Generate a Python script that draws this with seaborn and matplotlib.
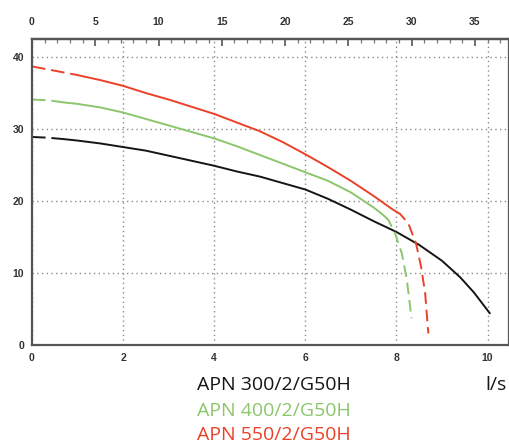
import numpy as np
import matplotlib
matplotlib.use("Agg")
import matplotlib.pyplot as plt
from matplotlib.ticker import MultipleLocator
import seaborn as sns

# ── data (flow l/s -> head m) ────────────────────────────────────────────
labels = ["APN 300/2/G50H", "APN 400/2/G50H", "APN 550/2/G50H"]
colors = ["#151515", "#8cc66c", "#ea4128"]

# APN 300
p300_start_x = [0.0, 0.35, 0.7]
p300_start_y = [28.9, 28.8, 28.6]
p300_x = [0.7, 1.0, 1.5, 2.0, 2.5, 3.0, 3.5, 4.0, 4.5, 5.0, 5.5, 6.0, 6.5,
          7.0, 7.5, 8.0, 8.5, 9.0, 9.4, 9.7, 10.05]
p300_y = [28.6, 28.4, 28.0, 27.5, 27.0, 26.3, 25.6, 24.9, 24.1, 23.4, 22.5,
          21.6, 20.3, 18.8, 17.2, 15.7, 13.9, 11.7, 9.4, 7.3, 4.4]
p300_end_x = []
p300_end_y = []

# APN 400
p400_start_x = [0.0, 0.35, 0.7]
p400_start_y = [34.1, 34.0, 33.7]
p400_x = [0.7, 1.0, 1.5, 2.0, 2.5, 3.0, 3.5, 4.0, 4.5, 5.0, 5.5, 6.0, 6.5,
          7.0, 7.5, 7.7, 7.82]
p400_y = [33.7, 33.5, 33.0, 32.3, 31.4, 30.5, 29.6, 28.7, 27.6, 26.4, 25.2,
          24.0, 22.8, 21.2, 19.1, 18.1, 17.4]
p400_end_x = [7.82, 7.97, 8.12, 8.23, 8.33]
p400_end_y = [17.4, 15.5, 12.7, 9.0, 3.7]

# APN 550
p550_start_x = [0.0, 0.5, 1.0]
p550_start_y = [38.7, 38.1, 37.5]
p550_x = [1.0, 1.5, 2.0, 2.5, 3.0, 3.5, 4.0, 4.5, 5.0, 5.5, 6.0, 6.5, 7.0,
          7.5, 7.9, 8.08]
p550_y = [37.5, 36.8, 36.0, 35.0, 34.1, 33.1, 32.1, 30.9, 29.7, 28.2, 26.5,
          24.7, 22.8, 20.7, 18.9, 18.2]
p550_end_x = [8.08, 8.26, 8.43, 8.54, 8.63, 8.70]
p550_end_y = [18.2, 16.9, 14.1, 10.9, 7.2, 1.6]

x_ticks = [0, 2, 4, 6, 8, 10]
y_ticks = [0, 10, 20, 30, 40]
top_ticks = [0, 5, 10, 15, 20, 25, 30, 35]

# ── figure ───────────────────────────────────────────────────────────────
sns.set_style("white")
plt.rcParams["font.family"] = ["Liberation Sans", "DejaVu Sans"]

fig = plt.figure(figsize=(5.1, 4.44), dpi=100)
ax = fig.add_axes([0.0627, 0.223, 0.9353, 0.689])

spine_col = "#555555"
lw = 1.4
curves = [
    (p300_start_x, p300_start_y, p300_x, p300_y, p300_end_x, p300_end_y),
    (p400_start_x, p400_start_y, p400_x, p400_y, p400_end_x, p400_end_y),
    (p550_start_x, p550_start_y, p550_x, p550_y, p550_end_x, p550_end_y),
]
for (sx, sy, mx, my, ex, ey), col in zip(curves, colors):
    sns.lineplot(x=sx, y=sy, ax=ax, color=col, lw=lw, sort=False,
                 estimator=None, linestyle=(0, (7, 3)))
    sns.lineplot(x=mx, y=my, ax=ax, color=col, lw=lw, sort=False,
                 estimator=None)
    if ex:
        sns.lineplot(x=ex, y=ey, ax=ax, color=col, lw=lw, sort=False,
                     estimator=None, linestyle=(2, (6, 3)))

ax.set_xlim(0, 10.47)
ax.set_ylim(0, 42.5)
ax.set_xticks(x_ticks)
ax.set_yticks(y_ticks)
ax.xaxis.set_minor_locator(MultipleLocator(0.5))
ax.yaxis.set_minor_locator(MultipleLocator(2))
ax.grid(True, which="major", color="#8a8a8a", lw=1.0, ls=(0, (1, 2.4)))
ax.set_axisbelow(True)

for s in ax.spines.values():
    s.set_color(spine_col)
    s.set_linewidth(1.6)
    s.set_visible(True)

tick_font = dict(labelsize=7.5, labelcolor="#333333")
ax.tick_params(axis="both", which="major", direction="inout", length=7,
               width=1.2, color=spine_col, **tick_font)
ax.tick_params(axis="both", which="minor", direction="inout", length=4,
               width=0.9, color="#777777")
ax.tick_params(axis="x", which="major", pad=2)
ax.tick_params(axis="y", which="major", pad=2)
for t in ax.get_xticklabels() + ax.get_yticklabels():
    t.set_fontweight("bold")

# top axis in m3/h
top = ax.secondary_xaxis("top", functions=(lambda v: v * 3.6, lambda v: v / 3.6))
top.set_xticks(top_ticks)
top.xaxis.set_minor_locator(MultipleLocator(1))
top.tick_params(which="major", direction="in", length=5, width=1.2,
                color=spine_col, pad=9, **tick_font)
top.tick_params(which="minor", direction="in", length=3, width=0.9,
                color="#777777")
top.spines["top"].set_color(spine_col)
top.spines["top"].set_linewidth(1.6)
for t in top.get_xticklabels():
    t.set_fontweight("bold")

ax.set_xlabel("")
ax.set_ylabel("")

# legend-like labels under the chart
ys = [0.1216, 0.0633, 0.0085]
for lab, col, yy in zip(labels, colors, ys):
    fig.text(0.386, yy, lab, color=col, fontsize=14, family="Open Sans",
             ha="left", va="baseline")
fig.text(0.994, 0.1216, "l/s", color="#151515", fontsize=14,
         family="Open Sans", ha="right", va="baseline")

fig.savefig("out.png", dpi=100)
